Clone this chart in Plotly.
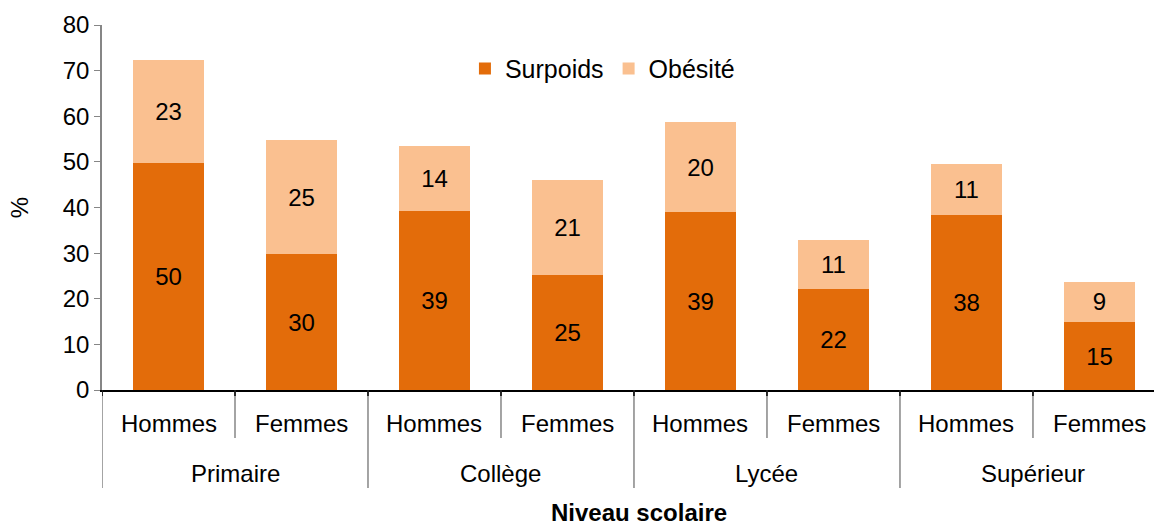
import plotly.graph_objects as go

niveaux = ["Primaire", "Collège", "Lycée", "Supérieur"]
sexes = ["Hommes", "Femmes", "Hommes", "Femmes", "Hommes", "Femmes", "Hommes", "Femmes"]
surpoids = [49.8, 29.8, 39.2, 25.2, 39.0, 22.1, 38.4, 14.9]
obesite = [22.6, 25.0, 14.3, 20.8, 19.7, 10.8, 11.2, 8.8]
y_ticks = [0, 10, 20, 30, 40, 50, 60, 70, 80]

FONT = "Liberation Sans, Arial, sans-serif"
FS = 24
pos = list(range(len(sexes)))

fig = go.Figure()
for name, vals, color in [("Surpoids", surpoids, "#E36C0A"), ("Obésité", obesite, "#FAC090")]:
    fig.add_trace(go.Bar(
        x=pos, y=vals, name=name,
        marker=dict(color=color, line=dict(width=0)),
        texttemplate="%{y:.0f}", textposition="inside", insidetextanchor="middle",
        textfont=dict(color="black", size=FS, family=FONT),
        hovertemplate=name + ": %{y}<extra></extra>",
    ))

# plot area is 365 px tall; convert pixel offsets below the axis to paper units
PLOT_H = 526 - 25 - 136
def below(px):
    return -px / PLOT_H

shapes = []
# short dividers between Hommes / Femmes inside each level
for g in range(len(niveaux)):
    xb = 2 * g + 0.5
    shapes.append(dict(type="line", xref="x", yref="paper", x0=xb, x1=xb,
                       y0=0, y1=below(48), line=dict(color="#868686", width=1.5)))
    shapes.append(dict(type="line", xref="x", yref="paper", x0=xb, x1=xb,
                       y0=0, y1=below(6), line=dict(color="black", width=1.5)))
# long dividers between levels
for g in range(len(niveaux)):
    xb = 2 * g - 0.5
    shapes.append(dict(type="line", xref="x", yref="paper", x0=xb, x1=xb,
                       y0=0, y1=below(98), line=dict(color="#868686", width=1.5)))
    shapes.append(dict(type="line", xref="x", yref="paper", x0=xb, x1=xb,
                       y0=0, y1=below(6), line=dict(color="black", width=1.5)))

annotations = []
for i, s in enumerate(sexes):
    annotations.append(dict(x=i, y=below(33), xref="x", yref="paper", text=s, showarrow=False,
                            xanchor="center", yanchor="middle", font=dict(size=FS)))
for g, n in enumerate(niveaux):
    annotations.append(dict(x=2 * g + 0.5, y=below(83), xref="x", yref="paper", text=n,
                            showarrow=False, xanchor="center", yanchor="middle",
                            font=dict(size=FS)))
annotations.append(dict(x=0.5 + 11 / 1052, y=below(122), xref="paper", yref="paper",
                        text="<b>Niveau scolaire</b>", showarrow=False,
                        xanchor="center", yanchor="middle", font=dict(size=FS)))

fig.update_layout(
    barmode="stack",
    bargap=0.47,
    width=1154, height=526,
    margin=dict(l=102, r=0, t=25, b=136),
    paper_bgcolor="white", plot_bgcolor="white",
    font=dict(family=FONT, size=FS, color="black"),
    showlegend=True,
    legend=dict(orientation="h", x=0.345, y=0.88, xanchor="left", yanchor="middle",
                font=dict(size=25), bgcolor="rgba(0,0,0,0)", traceorder="normal"),
    uniformtext=dict(minsize=10, mode="show"),
    shapes=shapes,
    annotations=annotations,
)
fig.update_xaxes(
    range=[-0.5, 7.41],
    showline=True, linecolor="black", linewidth=1.5,
    showticklabels=False, ticks="", showgrid=False, zeroline=False,
)
fig.update_yaxes(
    range=[0, 80], tickvals=y_ticks,
    showline=True, linecolor="#868686", linewidth=1.5,
    ticks="outside", ticklen=6, tickcolor="#868686",
    showgrid=False, zeroline=False,
    tickfont=dict(size=FS),
    title=dict(text="%", font=dict(size=FS), standoff=27),
)

fig.write_html("out.html")
